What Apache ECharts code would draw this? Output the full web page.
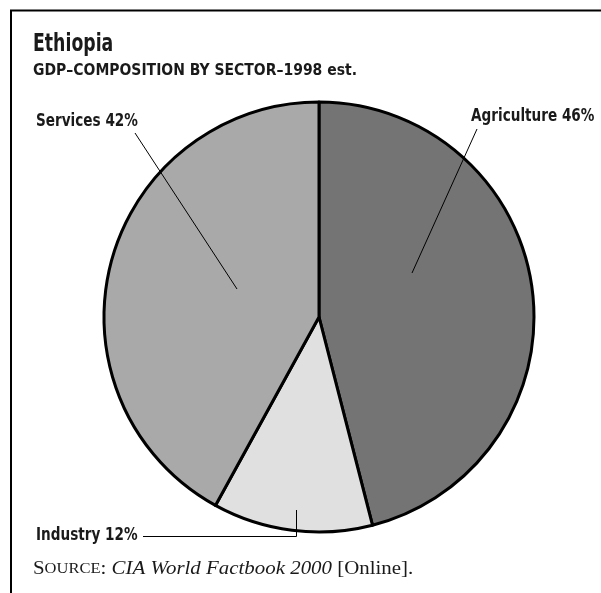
<!DOCTYPE html>
<html>
<head>
<meta charset="utf-8">
<script src="https://cdn.jsdelivr.net/npm/echarts@6/dist/echarts.min.js"></script>
<style>
  html, body { margin: 0; padding: 0; background: #fff; }
  #chart { width: 601px; height: 593px; }
</style>
</head>
<body>
<div id="chart"></div>
<script>
// Data
const sectors = ['Agriculture', 'Industry', 'Services'];
const shares = [46, 12, 42];
const sliceColors = ['#747474', '#e0e0e0', '#a9a9a9'];

// label placement: text anchor + leader line (pixels), one per sector
const labelSpots = [
  { x: 471, y: 116.5, line: [[412, 273], [477, 129]] },
  { x: 36, y: 535, line: [[296.5, 510], [296.5, 536.5], [143, 536.5]] },
  { x: 36, y: 121.5, line: [[237, 289], [135, 133]] }
];

// the printed font is a bold condensed face; squeeze the closest installed one
const CONDENSED = '"DejaVu Sans Condensed", "DejaVu Sans", sans-serif';
const SERIF = '"Liberation Serif", "DejaVu Serif", serif';
const INK = '#1a1a1a';

const chart = echarts.init(document.getElementById('chart'), null, { renderer: 'canvas' });

const headerText = (text, x, y, size, squeeze) => ({
  type: 'text',
  x,
  y,
  scaleX: squeeze,
  z: 100,
  silent: true,
  style: {
    text,
    fontFamily: CONDENSED,
    fontWeight: 'bold',
    fontSize: size,
    fill: INK,
    align: 'left',
    verticalAlign: 'middle'
  }
});

const labelGraphics = [];
sectors.forEach((name, i) => {
  const spot = labelSpots[i];
  labelGraphics.push({
    type: 'polyline',
    z: 100,
    silent: true,
    shape: { points: spot.line },
    style: { stroke: '#000', lineWidth: 1, fill: null }
  });
  labelGraphics.push(headerText(name + ' ' + shares[i] + '%', spot.x, spot.y, 18, 0.84));
});

const option = {
  animation: false,
  backgroundColor: '#fff',
  graphic: [
    {
      // frame: top and left rules only
      type: 'polyline',
      shape: { points: [[601, 10.5], [11, 10.5], [11, 593]] },
      style: { stroke: '#000', lineWidth: 2, fill: null },
      silent: true
    },
    headerText('Ethiopia', 33, 44, 25, 0.77),
    headerText('GDP–COMPOSITION BY SECTOR–1998 est.', 33, 71, 16, 0.97),
    {
      type: 'text',
      x: 33,
      y: 569,
      scaleX: 1.1,
      silent: true,
      style: {
        text: '{a|S}{b|OURCE}{a|: }{i|CIA World Factbook 2000}{a| [Online].}',
        align: 'left',
        verticalAlign: 'middle',
        rich: {
          a: { fontFamily: SERIF, fontSize: 19, fill: INK },
          b: { fontFamily: SERIF, fontSize: 15, fill: INK },
          i: { fontFamily: SERIF, fontSize: 19, fontStyle: 'italic', fill: INK }
        }
      }
    },
    ...labelGraphics
  ],
  series: [
    {
      type: 'pie',
      center: [319, 317],
      radius: 215,
      startAngle: 90,
      clockwise: true,
      label: { show: false },
      labelLine: { show: false },
      itemStyle: { borderColor: '#000', borderWidth: 3 },
      emphasis: { disabled: true },
      data: sectors.map((name, i) => ({
        name,
        value: shares[i],
        itemStyle: { color: sliceColors[i] }
      }))
    }
  ]
};

chart.setOption(option);
</script>
</body>
</html>
